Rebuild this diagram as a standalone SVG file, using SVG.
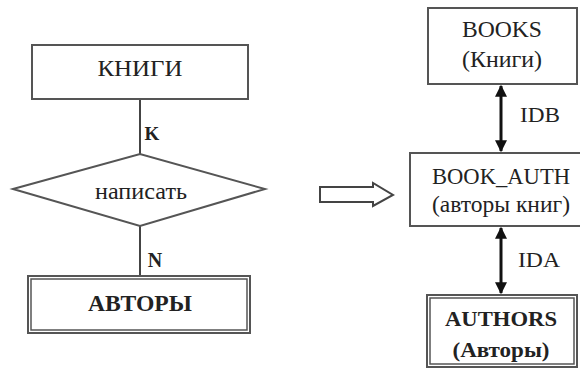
<svg xmlns="http://www.w3.org/2000/svg" width="580" height="369" viewBox="0 0 580 369">
<style>
.box{fill:#fff;stroke:#555;stroke-width:2}
.line{stroke:#444;stroke-width:2;fill:none}
.t{font-family:"Liberation Serif","Times New Roman",serif;fill:#222;text-anchor:middle}
.b{font-weight:bold}
.arr{stroke:#111;stroke-width:3;fill:none;marker-start:url(#ah);marker-end:url(#ah)}
</style>
<defs>
<marker id="ah" viewBox="0 0 10 10" refX="9" refY="5" markerWidth="4" markerHeight="5" orient="auto-start-reverse" markerUnits="strokeWidth">
<path d="M0,0 L10,5 L0,10 z" fill="#111"/>
</marker>
</defs>
<rect width="580" height="369" fill="#fff"/>
<g id="connectors">
<line class="line" x1="140" y1="99" x2="140" y2="154"/>
<line class="line" x1="140" y1="226" x2="140" y2="276"/>
<line class="arr" x1="501" y1="86" x2="501" y2="151"/>
<line class="arr" x1="501" y1="228" x2="501" y2="293"/>
<polygon points="320,187 373,187 373,183 393,195 373,206 373,202 320,202" fill="#fff" stroke="#444" stroke-width="2"/>
<text class="t b" x="152" y="140" font-size="19">K</text>
<text class="t b" x="155" y="267" font-size="20">N</text>
<text class="t" x="540" y="122" font-size="20" textLength="40" lengthAdjust="spacingAndGlyphs">IDB</text>
<text class="t" x="539" y="267" font-size="20" textLength="42" lengthAdjust="spacingAndGlyphs">IDA</text>
</g>
<g id="knigi">
<rect class="box" x="32" y="45" width="216" height="54"/>
<text class="t" x="140" y="76" font-size="23" textLength="85" lengthAdjust="spacingAndGlyphs">КНИГИ</text>
</g>
<g id="napisat">
<polygon class="box" points="13,189 140,154 265,189 140,226"/>
<text class="t" x="141" y="199" font-size="24" textLength="92" lengthAdjust="spacingAndGlyphs">написать</text>
</g>
<g id="avtory">
<rect class="box" x="28" y="276" width="222" height="57"/>
<rect x="31" y="279" width="216" height="51" fill="none" stroke="#555" stroke-width="1.5"/>
<text class="t b" x="140" y="311" font-size="24" textLength="104" lengthAdjust="spacingAndGlyphs">АВТОРЫ</text>
</g>
<g id="books">
<rect class="box" x="428" y="8" width="149" height="76"/>
<text class="t" x="502" y="37" font-size="23" textLength="80" lengthAdjust="spacingAndGlyphs">BOOKS</text>
<text class="t" x="502" y="67" font-size="23" textLength="80" lengthAdjust="spacingAndGlyphs">(Книги)</text>
</g>
<g id="book_auth">
<rect class="box" x="410" y="153" width="180" height="73"/>
<text class="t" x="501" y="184" font-size="24" textLength="138" lengthAdjust="spacingAndGlyphs">BOOK_AUTH</text>
<text class="t" x="501" y="212" font-size="24" textLength="138" lengthAdjust="spacingAndGlyphs">(авторы книг)</text>
</g>
<g id="authors">
<rect class="box" x="427" y="295" width="150" height="72"/>
<rect x="430" y="298" width="144" height="66" fill="none" stroke="#555" stroke-width="1.5"/>
<text class="t b" x="501" y="326" font-size="22" textLength="112" lengthAdjust="spacingAndGlyphs">AUTHORS</text>
<text class="t b" x="501" y="357" font-size="22" textLength="97" lengthAdjust="spacingAndGlyphs">(Авторы)</text>
</g>
</svg>
